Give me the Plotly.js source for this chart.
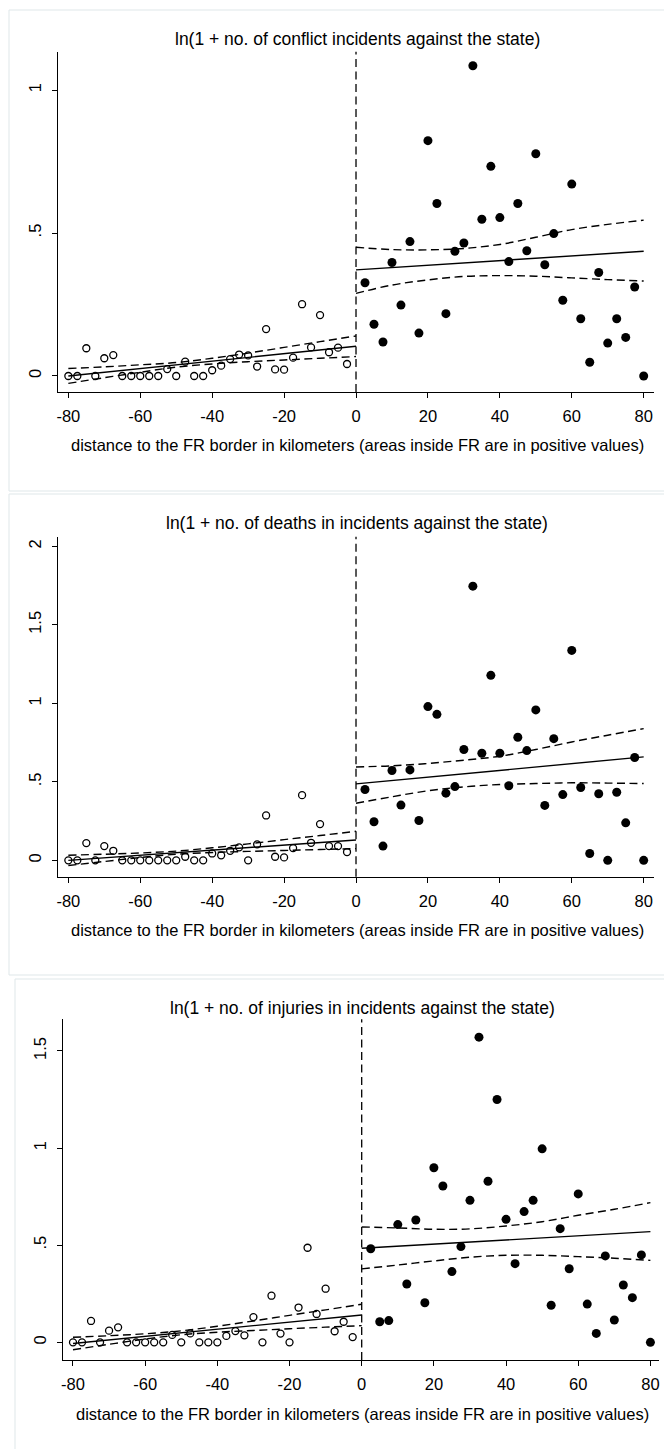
<!DOCTYPE html>
<html>
<head>
<meta charset="utf-8">
<script src="https://cdn.plot.ly/plotly-3.0.1.min.js"></script>
<style>html,body{margin:0;padding:0;background:#fff;}#chart{width:664px;height:1449px;}</style>
</head>
<body>
<div id="chart"></div>
<script>
// ---------- data ----------
const xLeft = [-80,-77.5,-75,-72.5,-70,-67.5,-65,-62.5,-60,-57.5,-55,-52.5,-50,-47.5,-45,-42.5,-40,-37.5,-35,-32.5,-30,-27.5,-25,-22.5,-20,-17.5,-15,-12.5,-10,-7.5,-5,-2.5];
const xRight = [2.5,5,7.5,10,12.5,15,17.5,20,22.5,25,27.5,30,32.5,35,37.5,40,42.5,45,47.5,50,52.5,55,57.5,60,62.5,65,67.5,70,72.5,75,77.5,80];

// panel 1: ln(1 + no. of conflict incidents against the state)
const incLeft  = [0,0,0.097,0,0.062,0.073,0,0,0,0,0,0.024,0,0.050,0,0,0.020,0.036,0.059,0.075,0.072,0.033,0.164,0.023,0.022,0.064,0.251,0.100,0.213,0.083,0.099,0.042];
const incRight = [0.326,0.181,0.119,0.397,0.248,0.470,0.150,0.823,0.603,0.218,0.436,0.465,1.085,0.548,0.733,0.554,0.400,0.603,0.438,0.777,0.389,0.498,0.265,0.671,0.200,0.048,0.362,0.115,0.200,0.135,0.311,0.000];
// panel 2: ln(1 + no. of deaths in incidents against the state)
const deathLeft  = [0,0,0.110,0,0.091,0.061,0,0,0,0,0,0,0,0.023,0,0,0.044,0.032,0.061,0.083,0,0.102,0.286,0.023,0.019,0.078,0.415,0.112,0.231,0.091,0.091,0.053];
const deathRight = [0.451,0.246,0.091,0.572,0.352,0.576,0.254,0.979,0.930,0.428,0.470,0.706,1.746,0.682,1.178,0.682,0.475,0.784,0.699,0.958,0.350,0.775,0.419,1.337,0.464,0.044,0.424,0.000,0.434,0.239,0.655,0.000];
// panel 3: ln(1 + no. of injuries in incidents against the state)
const injLeft  = [0,0,0.110,0,0.060,0.077,0,0,0,0,0,0.038,0,0.046,0,0,0,0.033,0.058,0.036,0.130,0,0.240,0.045,0,0.179,0.487,0.146,0.276,0.057,0.106,0.027];
const injRight = [0.482,0.106,0.112,0.606,0.300,0.630,0.204,0.899,0.805,0.364,0.493,0.731,1.571,0.829,1.250,0.633,0.405,0.673,0.731,0.996,0.191,0.585,0.379,0.764,0.197,0.046,0.445,0.115,0.295,0.230,0.450,0.000];

// linear fits and 95% CI bands, read at these distances
const fitXLeft  = [-80,-70,-60,-50,-40,-30,-20,-10,0];
const fitXRight = [0,10,20,30,40,50,60,70,80];

const incFitL = [0.000,0.013,0.026,0.039,0.052,0.065,0.078,0.091,0.104];
const incUpL  = [0.026,0.032,0.039,0.047,0.062,0.080,0.100,0.120,0.140];
const incLoL  = [-0.026,-0.006,0.013,0.031,0.042,0.050,0.056,0.062,0.068];
const incFitR = [0.371,0.379,0.387,0.395,0.404,0.412,0.420,0.428,0.436];
const incUpR  = [0.450,0.442,0.441,0.446,0.460,0.485,0.512,0.530,0.545];
const incLoR  = [0.289,0.318,0.336,0.348,0.351,0.349,0.343,0.337,0.332];

const deathFitL = [0.000,0.016,0.033,0.049,0.065,0.081,0.098,0.114,0.130];
const deathUpL  = [0.033,0.039,0.047,0.059,0.080,0.105,0.132,0.158,0.185];
const deathLoL  = [-0.033,-0.007,0.018,0.039,0.050,0.057,0.063,0.069,0.075];
const deathFitR = [0.487,0.509,0.530,0.552,0.573,0.595,0.616,0.638,0.659];
const deathUpR  = [0.595,0.602,0.617,0.638,0.663,0.706,0.754,0.797,0.839];
const deathLoR  = [0.364,0.405,0.443,0.468,0.483,0.489,0.494,0.492,0.489];

const injFitL = [-0.006,0.012,0.031,0.049,0.067,0.086,0.104,0.123,0.141];
const injUpL  = [0.026,0.034,0.044,0.059,0.083,0.110,0.139,0.167,0.196];
const injLoL  = [-0.038,-0.010,0.017,0.039,0.052,0.061,0.070,0.078,0.086];
const injFitR = [0.484,0.495,0.505,0.516,0.527,0.538,0.548,0.559,0.570];
const injUpR  = [0.594,0.589,0.582,0.584,0.599,0.621,0.654,0.685,0.719];
const injLoR  = [0.378,0.398,0.419,0.438,0.448,0.448,0.441,0.433,0.422];

const titles = [
  "ln(1 + no. of conflict incidents against the state)",
  "ln(1 + no. of deaths in incidents against the state)",
  "ln(1 + no. of injuries in incidents against the state)"
];
const xTitle = "distance to the FR border in kilometers (areas inside FR are in positive values)";
const xTicks = [-80,-60,-40,-20,0,20,40,60,80];
const yTicks1 = [0,0.5,1], yText1 = ["0",".5","1"];
const yTicks2 = [0,0.5,1,1.5,2], yText2 = ["0",".5","1","1.5","2"];
const yTicks3 = [0,0.5,1,1.5], yText3 = ["0",".5","1","1.5"];

// ---------- drawing ----------
const W = 664, H = 1449;
const FONT = "Liberation Sans, Arial, sans-serif";
const DASH = "8px,4.5px";
const traces = [];
function addPanel(n, yl, yr, fl, ul, ll, fr, ur, lr) {
  const xa = n === 1 ? "x" : "x" + n, ya = n === 1 ? "y" : "y" + n;
  const ln = (x, y, dash) => ({x: x, y: y, xaxis: xa, yaxis: ya, type: "scatter", mode: "lines",
    hoverinfo: "skip", line: {color: "#000", width: 1.4, dash: dash, shape: dash ? "spline" : "linear"}});
  traces.push(ln(fitXLeft, ul, DASH), ln(fitXLeft, ll, DASH), ln(fitXLeft, fl, null));
  traces.push(ln(fitXRight, ur, DASH), ln(fitXRight, lr, DASH), ln(fitXRight, fr, null));
  traces.push({x: xLeft, y: yl, xaxis: xa, yaxis: ya, type: "scatter", mode: "markers",
    marker: {symbol: "circle-open", size: 7, color: "#000", line: {width: 1.3, color: "#000"}}});
  traces.push({x: xRight, y: yr, xaxis: xa, yaxis: ya, type: "scatter", mode: "markers",
    marker: {symbol: "circle", size: 9, color: "#000", line: {width: 0}}});
}
addPanel(1, incLeft, incRight, incFitL, incUpL, incLoL, incFitR, incUpR, incLoR);
addPanel(2, deathLeft, deathRight, deathFitL, deathUpL, deathLoL, deathFitR, deathUpR, deathLoR);
addPanel(3, injLeft, injRight, injFitL, injUpL, injLoL, injFitR, injUpR, injLoR);

const py = v => 1 - v / H, px = v => v / W;
const tickFont = {family: FONT, size: 16.5, color: "#000"};
function xAxis(anchor, l, r, range) {
  return {anchor: anchor, domain: [px(l), px(r)], range: range, tickvals: xTicks, ticktext: xTicks.map(String),
    showline: true, linecolor: "#000", linewidth: 1, ticks: "outside", ticklen: 5, tickwidth: 1, tickcolor: "#000",
    showgrid: false, zeroline: false, tickfont: tickFont, ticklabelstandoff: 4, fixedrange: true};
}
function yAxis(anchor, top, bot, range, tv, tt) {
  return {anchor: anchor, domain: [py(bot), py(top)], range: range, tickvals: tv, ticktext: tt, tickangle: -90,
    showline: true, linecolor: "#000", linewidth: 1, ticks: "outside", ticklen: 5, tickwidth: 1, tickcolor: "#000",
    showgrid: false, zeroline: false, tickfont: tickFont, ticklabelstandoff: 4, fixedrange: true};
}

const frameColor = "#dfe7e9";
const shapes = [
  {type: "rect", xref: "paper", yref: "paper", x0: px(9), x1: 1.01, y0: py(491), y1: py(10), line: {color: frameColor, width: 1}},
  {type: "rect", xref: "paper", yref: "paper", x0: px(9), x1: 1.01, y0: py(975), y1: py(494), line: {color: frameColor, width: 1}},
  {type: "rect", xref: "paper", yref: "paper", x0: px(15), x1: 1.01, y0: -0.01, y1: py(979), line: {color: frameColor, width: 1}}
];
["x", "x2", "x3"].forEach((xa, i) => {
  shapes.push({type: "line", xref: xa, yref: (i === 0 ? "y" : "y" + (i + 1)) + " domain", x0: 0, x1: 0, y0: 0, y1: 1,
    line: {color: "#000", width: 1.3, dash: DASH}});
});

const titleFont = {family: FONT, size: 17.5, color: "#000"};
const axTitleFont = {family: FONT, size: 16.5, color: "#000"};
const ann = (text, x, y, f) => ({text: text, x: x, y: y, xref: "paper", yref: "paper", showarrow: false,
  xanchor: "center", yanchor: "middle", font: f});
const annotations = [
  ann(titles[0], px(357), py(39), titleFont),
  ann(titles[1], px(357), py(523), titleFont),
  ann(titles[2], px(362), py(1008), titleFont),
  ann(xTitle, px(357), py(445), axTitleFont),
  ann(xTitle, px(357), py(930), axTitleFont),
  ann(xTitle, px(362.3), py(1414), axTitleFont)
];

const layout = {
  width: W, height: H, margin: {l: 0, r: 0, t: 0, b: 0, pad: 0},
  paper_bgcolor: "#fff", plot_bgcolor: "#fff", showlegend: false,
  font: {family: FONT, color: "#000"},
  xaxis: xAxis("y", 57.8, 654, [-82.93, 82.87]),
  yaxis: yAxis("x", 51.7, 392, [-0.056, 1.134], yTicks1, yText1),
  xaxis2: xAxis("y2", 57.8, 654, [-82.93, 82.87]),
  yaxis2: yAxis("x2", 536.7, 876.7, [-0.104, 2.061], yTicks2, yText2),
  xaxis3: xAxis("y3", 62.7, 659, [-82.85, 82.38]),
  yaxis3: yAxis("x3", 1019.3, 1360, [-0.091, 1.663], yTicks3, yText3),
  shapes: shapes, annotations: annotations
};
Plotly.newPlot("chart", traces, layout, {displayModeBar: false, staticPlot: true});
</script>
</body>
</html>
